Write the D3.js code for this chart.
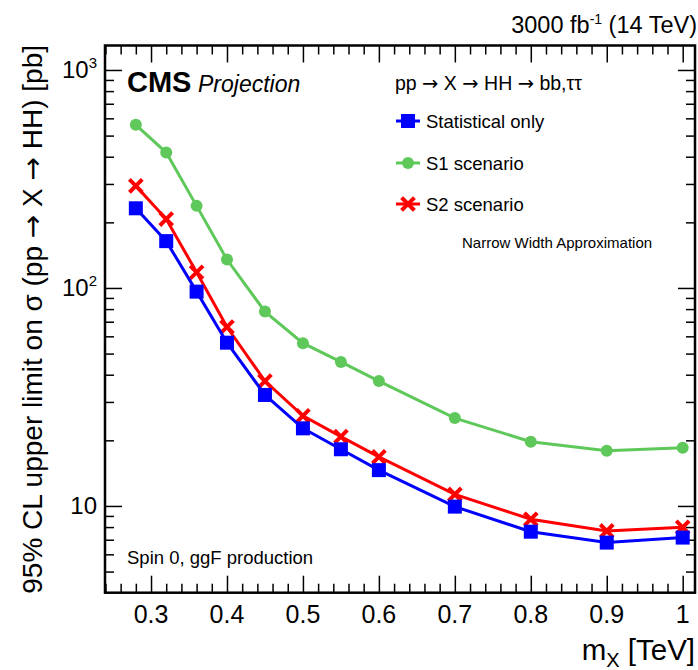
<!DOCTYPE html>
<html>
<head>
<meta charset="utf-8">
<script src="https://cdn.jsdelivr.net/npm/d3@7"></script>
<style>
    body {
        margin: 0;
        background: white;
    }
    svg text {
        font-family: "Liberation Sans", Arial, Helvetica, sans-serif;
        fill: black;
    }
    svg text tspan.arrow {
        font-family: "DejaVu Sans", sans-serif;
    }
</style>
</head>
<body>
<svg id="chart" width="698" height="670"></svg>
<script>
// masses in TeV
const masses = [0.28, 0.32, 0.36, 0.4, 0.45, 0.5, 0.55, 0.6, 0.7, 0.8, 0.9, 1.0];

// 95% CL limits [pb]
const statOnly = [232, 164, 96.2, 56.1, 32.3, 22.7, 18.2, 14.6, 9.93, 7.62, 6.79, 7.16];
const s1Scenario = [560, 418, 238, 135, 77.9, 55.8, 45.8, 37.4, 25.3, 19.7, 17.9, 18.5];
const s2Scenario = [294, 207, 118, 66.2, 37.4, 25.9, 20.8, 16.8, 11.3, 8.69, 7.68, 7.98];

const xMajorTicks = [0.3, 0.4, 0.5, 0.6, 0.7, 0.8, 0.9, 1.0];
const xTickLabels = ["0.3", "0.4", "0.5", "0.6", "0.7", "0.8", "0.9", "1"];
const yMajorTicks = [10, 100, 1000];
const yTickLabels = [["10", ""], ["10", "2"], ["10", "3"]];

const legendNames = ["Statistical only", "S1 scenario", "S2 scenario"];

const frame = { left: 105, right: 695, top: 45.5, bottom: 592.7 };

const svg = d3.select("#chart");

const x = d3.scaleLinear().domain([0.2394, 1.0162]).range([frame.left, frame.right]);
const y = d3.scaleLog().domain([4, 1295]).range([frame.bottom, frame.top]);

// minor ticks
const xMinorTicks = d3.range(0.24, 1.0101, 0.02)
    .map((v) => +v.toFixed(2))
    .filter((v) => !xMajorTicks.some((m) => Math.abs(m - v) < 1e-6));
const yMinorTicks = [];
[1, 10, 100].forEach((dec) => {
    d3.range(2, 10).forEach((k) => {
        const v = k * dec;
        if (v > 4 && v < 1295 && !yMajorTicks.includes(v)) yMinorTicks.push(v);
    });
});

const majorLen = 17;
const minorLen = 9;

const drawAxis = (axisFn, scale, transform, values, len) => {
    const g = svg.append("g")
        .attr("transform", transform)
        .call(axisFn(scale).tickValues(values).tickSize(-len).tickFormat(""));
    g.select(".domain").remove();
    g.selectAll(".tick line").attr("stroke", "black").attr("stroke-width", 1.5);
    return g;
};

// split a label on arrows so the arrows can use a font that has a proper glyph
const withArrows = (textSel, str) => {
    str.split(/(→)/).forEach((part) => {
        if (part === "") return;
        textSel.append("tspan")
            .attr("class", part === "→" ? "arrow" : null)
            .text(part);
    });
};

// ticks on all four sides, pointing inward (ROOT style)
drawAxis(d3.axisBottom, x, `translate(0,${frame.bottom})`, xMajorTicks, majorLen);
drawAxis(d3.axisBottom, x, `translate(0,${frame.bottom})`, xMinorTicks, minorLen);
drawAxis(d3.axisTop, x, `translate(0,${frame.top})`, xMajorTicks, majorLen);
drawAxis(d3.axisTop, x, `translate(0,${frame.top})`, xMinorTicks, minorLen);
drawAxis(d3.axisLeft, y, `translate(${frame.left},0)`, yMajorTicks, majorLen);
drawAxis(d3.axisLeft, y, `translate(${frame.left},0)`, yMinorTicks, minorLen);
drawAxis(d3.axisRight, y, `translate(${frame.right},0)`, yMajorTicks, majorLen);
drawAxis(d3.axisRight, y, `translate(${frame.right},0)`, yMinorTicks, minorLen);

svg.append("rect")
    .attr("x", frame.left)
    .attr("y", frame.top)
    .attr("width", frame.right - frame.left)
    .attr("height", frame.bottom - frame.top)
    .attr("fill", "none")
    .attr("stroke", "black")
    .attr("stroke-width", 2.5);

// tick labels
svg.append("g")
    .selectAll("text")
    .data(xMajorTicks)
    .join("text")
    .attr("x", (d) => x(d))
    .attr("y", frame.bottom + 30)
    .attr("text-anchor", "middle")
    .attr("font-size", 25)
    .text((d, i) => xTickLabels[i]);

const yLabels = svg.append("g")
    .selectAll("text")
    .data(yMajorTicks)
    .join("text")
    .attr("x", 97)
    .attr("y", (d) => y(d) + 8)
    .attr("text-anchor", "end")
    .attr("font-size", 24);
yLabels.append("tspan").text((d, i) => yTickLabels[i][0]);
yLabels.append("tspan")
    .attr("font-size", 15)
    .attr("dy", -10)
    .text((d, i) => yTickLabels[i][1]);

// axis titles
const xTitle = svg.append("text")
    .attr("x", 695)
    .attr("y", 660)
    .attr("text-anchor", "end")
    .attr("font-size", 29.5);
xTitle.append("tspan").text("m");
xTitle.append("tspan").attr("font-size", 20).attr("dy", 7).text("X");
xTitle.append("tspan").attr("dy", -7).text(" [TeV]");

const yTitle = svg.append("text")
    .attr("transform", "translate(42,45) rotate(-90)")
    .attr("text-anchor", "end")
    .attr("font-size", 28);
withArrows(yTitle, "95% CL upper limit on σ (pp → X → HH) [pb]");

const lumi = svg.append("text")
    .attr("x", 697)
    .attr("y", 33)
    .attr("text-anchor", "end")
    .attr("font-size", 23.5);
lumi.append("tspan").text("3000 fb");
lumi.append("tspan").attr("font-size", 14).attr("dy", -9).text("-1");
lumi.append("tspan").attr("dy", 9).text(" (14 TeV)");

svg.append("text")
    .attr("x", 127)
    .attr("y", 92)
    .attr("font-size", 29)
    .attr("font-weight", "bold")
    .text("CMS");
svg.append("text")
    .attr("x", 198)
    .attr("y", 92)
    .attr("font-size", 23)
    .attr("font-style", "italic")
    .text("Projection");

svg.append("text")
    .attr("x", 127)
    .attr("y", 564)
    .attr("font-size", 18.5)
    .text("Spin 0, ggF production");

const procLabel = svg.append("text")
    .attr("x", 395)
    .attr("y", 90)
    .attr("font-size", 19.5);
withArrows(procLabel, "pp → X → HH → bb,ττ");

svg.append("text")
    .attr("x", 462)
    .attr("y", 248)
    .attr("font-size", 15)
    .text("Narrow Width Approximation");

// markers
const drawMarker = (sel, kind, color) => {
    if (kind === "square") {
        sel.append("rect")
            .attr("x", -7)
            .attr("y", -7)
            .attr("width", 14)
            .attr("height", 14)
            .attr("fill", color);
    } else if (kind === "circle") {
        sel.append("circle").attr("r", 6).attr("fill", color);
    } else {
        sel.append("path")
            .attr("d", "M-5,-5L5,5M-5,5L5,-5")
            .attr("stroke", color)
            .attr("stroke-width", 4)
            .attr("stroke-linecap", "square");
    }
};

const series = [
    { name: legendNames[1], values: s1Scenario, color: "#5fc85a", marker: "circle" },
    { name: legendNames[2], values: s2Scenario, color: "#ff0000", marker: "cross" },
    { name: legendNames[0], values: statOnly, color: "#0000ff", marker: "square" },
];

const line = d3.line()
    .x((d) => x(d[0]))
    .y((d) => y(d[1]));

series.forEach((s) => {
    const pts = masses.map((m, i) => [m, s.values[i]]);
    svg.append("path")
        .attr("d", line(pts))
        .attr("fill", "none")
        .attr("stroke", s.color)
        .attr("stroke-width", 3);
    svg.append("g")
        .selectAll("g")
        .data(pts)
        .join("g")
        .attr("transform", (d) => `translate(${x(d[0])},${y(d[1])})`)
        .each(function () {
            drawMarker(d3.select(this), s.marker, s.color);
        });
});

// legend
const legendRows = [
    { name: legendNames[0], color: "#0000ff", marker: "square", cy: 121 },
    { name: legendNames[1], color: "#5fc85a", marker: "circle", cy: 163 },
    { name: legendNames[2], color: "#ff0000", marker: "cross", cy: 204 },
];
legendRows.forEach((row) => {
    svg.append("line")
        .attr("x1", 396)
        .attr("x2", 420)
        .attr("y1", row.cy)
        .attr("y2", row.cy)
        .attr("stroke", row.color)
        .attr("stroke-width", 3);
    const g = svg.append("g").attr("transform", `translate(408,${row.cy})`);
    drawMarker(g, row.marker, row.color);
    svg.append("text")
        .attr("x", 426)
        .attr("y", row.cy + 7)
        .attr("font-size", 18.5)
        .text(row.name);
});
</script>
</body>
</html>
